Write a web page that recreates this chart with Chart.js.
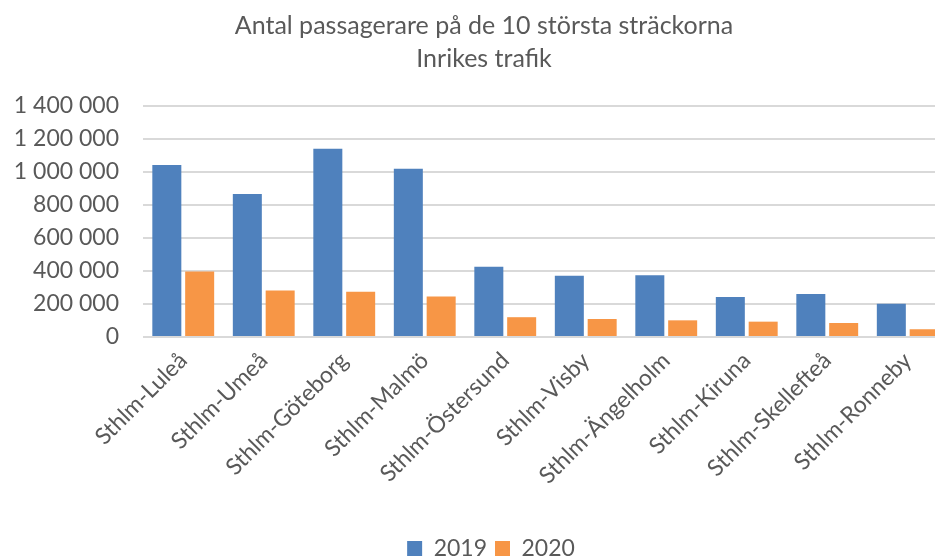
<!DOCTYPE html>
<html><head><meta charset="utf-8">
<script src="https://cdn.jsdelivr.net/npm/chart.js@4"></script>
<style>html,body{margin:0;padding:0;background:#fff;overflow:hidden;width:935px;height:560px}#wrap{position:absolute;left:0;top:0;width:968px;height:560px}canvas{display:block}</style>
</head><body><div id="wrap"><canvas id="c"></canvas></div>
<script>
const categories = ["Sthlm-Luleå","Sthlm-Umeå","Sthlm-Göteborg","Sthlm-Malmö","Sthlm-Östersund","Sthlm-Visby","Sthlm-Ängelholm","Sthlm-Kiruna","Sthlm-Skellefteå","Sthlm-Ronneby"];
const values2019 = [1042000, 867000, 1141000, 1019000, 426000, 371000, 375000, 243000, 261000, 201000];
const values2020 = [397000, 282000, 274000, 245000, 120000, 109000, 101000, 93000, 85000, 47000];
const seriesNames = ["2019","2020"];
const titleLines = ["Antal passagerare på de 10 största sträckorna","Inrikes trafik"];

const FONT = "Lato, 'Open Sans', sans-serif";
const TXT = "#595959";
function fmt(v){ return String(v).replace(/\B(?=(\d{3})+(?!\d))/g,' '); }

const shiftBlocks = {
  id: 'shiftBlocks',
  afterLayout(chart) {
    if (chart.titleBlock && typeof chart.titleBlock.left === 'number') chart.titleBlock.left += 20;
    if (chart.legend && typeof chart.legend.left === 'number') chart.legend.left += 34;
  }
};

new Chart(document.getElementById('c'), {
  type: 'bar',
  data: {
    labels: categories,
    datasets: [
      {label: seriesNames[0], data: values2019, backgroundColor: '#4F81BD', categoryPercentage: 0.816, barPercentage: 0.883},
      {label: seriesNames[1], data: values2020, backgroundColor: '#F79646', categoryPercentage: 0.816, barPercentage: 0.883}
    ]
  },
  plugins: [shiftBlocks],
  options: {
    responsive: true, maintainAspectRatio: false, animation: false,
    layout: {padding: {left: 0, right: 20, top: 10, bottom: -10}},
    plugins: {
      title: {display: true, text: titleLines, color: TXT, font: {family: FONT, size: 25, weight: 'normal', lineHeight: 1.3}, padding: {top: 0, bottom: 31}},
      legend: {position: 'bottom', labels: {color: TXT, font: {family: FONT, size: 23}, boxWidth: 15, boxHeight: 15, padding: 8}},
      tooltip: {enabled: false}
    },
    scales: {
      x: {
        grid: {display: false},
        border: {display: false},
        ticks: {color: TXT, font: {family: FONT, size: 23}, maxRotation: 45, minRotation: 45, autoSkip: false, padding: 2},
        afterFit: s => { s.height = 192; }
      },
      y: {
        min: 0, max: 1400000,
        ticks: {stepSize: 200000, color: TXT, font: {family: FONT, size: 23}, callback: v => fmt(v), padding: 24},
        grid: {color: '#d9d9d9', lineWidth: 2, drawTicks: false},
        border: {display: false},
        afterFit: s => { s.width = 143; }
      }
    }
  }
});
</script></body></html>
